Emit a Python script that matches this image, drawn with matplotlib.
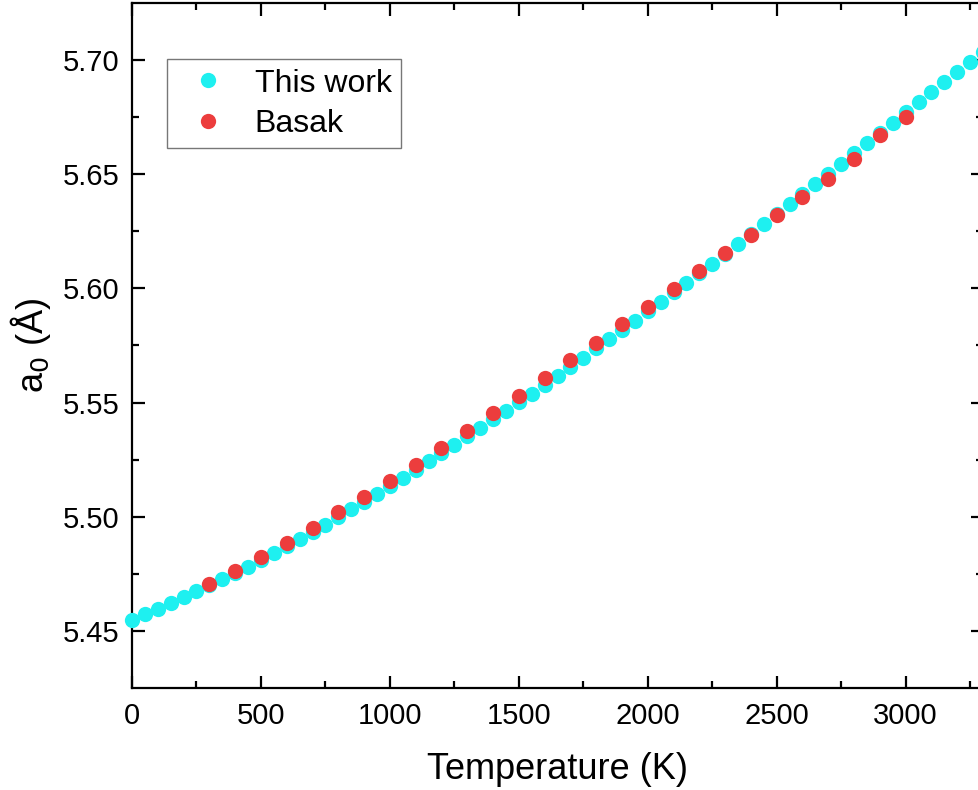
import numpy as np
import matplotlib.pyplot as plt

plt.rcParams['font.family'] = ['Liberation Sans', 'DejaVu Sans']

# This work: lattice parameter every 50 K
t_this = np.arange(0, 3301, 50)
a_this = [5.4548, 5.4572, 5.4597, 5.4622, 5.4648, 5.4674, 5.4700, 5.4727, 5.4754, 5.4782,
          5.4810, 5.4840, 5.4870, 5.4901, 5.4933, 5.4965, 5.4998, 5.5032, 5.5066, 5.5100,
          5.5135, 5.5170, 5.5206, 5.5242, 5.5278, 5.5315, 5.5352, 5.5389, 5.5426, 5.5463,
          5.5501, 5.5539, 5.5578, 5.5617, 5.5657, 5.5697, 5.5737, 5.5777, 5.5818, 5.5859,
          5.5900, 5.5941, 5.5983, 5.6025, 5.6067, 5.6109, 5.6152, 5.6195, 5.6238, 5.6281,
          5.6325, 5.6369, 5.6413, 5.6457, 5.6501, 5.6546, 5.6591, 5.6636, 5.6681, 5.6726,
          5.6771, 5.6815, 5.6859, 5.6903, 5.6947, 5.6991, 5.7035]

# Basak: every 100 K from 300 K
t_basak = np.arange(300, 3001, 100)
a_basak = [5.4705, 5.4762, 5.4823, 5.4885, 5.4950, 5.5020, 5.5087, 5.5157, 5.5228, 5.5300,
           5.5377, 5.5455, 5.5530, 5.5607, 5.5685, 5.5763, 5.5843, 5.5917, 5.5997, 5.6075,
           5.6155, 5.6235, 5.6320, 5.6400, 5.6480, 5.6565, 5.6672, 5.6751]

fig = plt.figure(figsize=(9.79, 7.90), dpi=100)
ax = fig.add_axes([132/979, 102/790, 851/979, 685/790])

ax.plot(t_this, a_this, 'o', color='#1ef0f0', markersize=11, markeredgewidth=0,
        label='This work', clip_on=False, zorder=3)
ax.plot(t_basak, a_basak, 'o', color='#ec3d3d', markersize=11, markeredgewidth=0,
        label='Basak', zorder=4)

ax.set_xlim(0, 3300)
ax.set_ylim(5.425, 5.725)
ax.set_xticks(np.arange(0, 3001, 500))
ax.set_xticks(np.arange(250, 3300, 500), minor=True)
ax.set_yticks([5.45, 5.50, 5.55, 5.60, 5.65, 5.70])
ax.set_yticks([5.475, 5.525, 5.575, 5.625, 5.675], minor=True)
ax.set_yticklabels(['5.45', '5.50', '5.55', '5.60', '5.65', '5.70'])

ax.tick_params(which='both', direction='in', top=True, right=True, width=1.6,
               labelsize=21, colors='black')
ax.tick_params(which='major', length=9)
ax.tick_params(which='minor', length=5)
ax.tick_params(axis='x', pad=10)
ax.tick_params(axis='y', pad=9)
for s in ax.spines.values():
    s.set_linewidth(1.6)

ax.set_xlabel('Temperature (K)', fontsize=26, labelpad=16)
ax.set_ylabel('a$_0$ (Å)', fontsize=26, labelpad=7)

leg = ax.legend(loc='upper left', bbox_to_anchor=(35/851, 1 - 56/685), fontsize=23,
                frameon=True, fancybox=False, edgecolor='#555555', handletextpad=0.5,
                borderpad=0.3, labelspacing=0.32, handlelength=1.95, borderaxespad=0)
leg.get_frame().set_linewidth(1.0)

plt.savefig('out.png', dpi=100)
